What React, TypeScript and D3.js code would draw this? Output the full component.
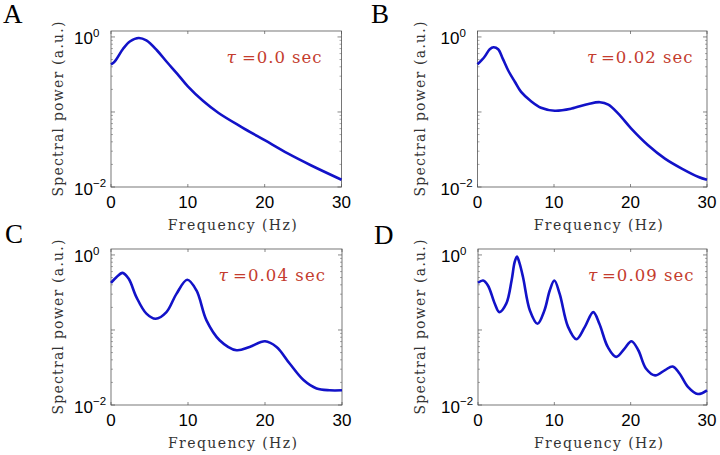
import React from "react";
import * as d3 from "d3";

// spectral power (Hz -> a.u.)
const freqA = [0, 0.5, 1.6, 2.5, 3.6, 4.6, 6, 7.3, 8.6, 10, 12, 14, 17, 20, 23, 26, 30];
const powerA = [0.432, 0.474, 0.7, 0.875, 0.97, 0.9, 0.66, 0.46, 0.325, 0.22, 0.14, 0.097, 0.063, 0.042, 0.028, 0.0195, 0.0125];

const freqB = [0, 0.9, 1.6, 2.1, 2.7, 3.3, 4, 4.9, 5.7, 7, 8.3, 10.1, 12.3, 14.5, 16, 17.1, 18.4, 20.1, 22.3, 24.5, 26.7, 28.9, 30];
const powerB = [0.432, 0.54, 0.685, 0.728, 0.685, 0.514, 0.36, 0.251, 0.185, 0.139, 0.114, 0.104, 0.111, 0.128, 0.135, 0.125, 0.095, 0.06, 0.036, 0.0239, 0.0176, 0.0136, 0.0125];

const freqC = [0, 0.7, 1.5, 2.3, 3.3, 4.6, 5.8, 7.2, 8.5, 9.9, 11.1, 12.4, 14.1, 16.3, 18, 20, 21.5, 23.2, 25, 26.7, 28.4, 30];
const powerC = [0.425, 0.505, 0.577, 0.48, 0.274, 0.165, 0.141, 0.173, 0.303, 0.466, 0.336, 0.134, 0.073, 0.0537, 0.0594, 0.0707, 0.0594, 0.0357, 0.0215, 0.0166, 0.0157, 0.0157];

const freqD = [0, 0.66, 1.3, 2.2, 2.8, 3.7, 4.4, 4.8, 5.1, 5.4, 5.9, 6.8, 7.8, 8.7, 9.4, 10, 10.7, 11.8, 12.9, 14, 15.1, 15.9, 17, 18.1, 19.2, 20.1, 21, 22, 23.2, 24.5, 25.5, 26.4, 27.5, 28.8, 30];
const powerD = [0.425, 0.456, 0.392, 0.224, 0.173, 0.224, 0.456, 0.8, 0.95, 0.8, 0.505, 0.182, 0.121, 0.182, 0.336, 0.456, 0.303, 0.11, 0.0752, 0.11, 0.173, 0.121, 0.0594, 0.0438, 0.0565, 0.0707, 0.0537, 0.0307, 0.0248, 0.0292, 0.0326, 0.0263, 0.0175, 0.014, 0.0157];

const panelLetters = ["A", "B", "C", "D"];
const tauLabels = ["=0.0 sec", "=0.02 sec", "=0.04 sec", "=0.09 sec"];
const xTicks = [0, 10, 20, 30];
const yMajor = [0.01, 0.1, 1];
const xDomain = [0, 30];
const yDomain = [0.01, 1.2];

const series = [
  { f: freqA, p: powerA },
  { f: freqB, p: powerB },
  { f: freqC, p: powerC },
  { f: freqD, p: powerD },
];

const layout = [
  { l: 111, r: 341.5, t: 31, b: 187, lx: 3, ly: 23, tau: 226.5, eq: 242, end: 321.5, yl: 58 },
  { l: 477.5, r: 707, t: 31, b: 187, lx: 371, ly: 23, tau: 587, eq: 601, end: 692.5, yl: 420 },
  { l: 111, r: 342, t: 249, b: 405, lx: 5, ly: 243, tau: 218.5, eq: 233, end: 325, yl: 58 },
  { l: 478, r: 707, t: 249, b: 405, lx: 374, ly: 244, tau: 588, eq: 602, end: 693.5, yl: 420 },
];

const serif = "'DejaVu Serif', serif";
const letterFont = "'Liberation Serif', serif";
const sans = "'Liberation Sans', Arial, sans-serif";
const red = "#c43c2e";
const blue = "#1212c8";
const axisCol = "#555";
const labelCol = "#333";

const minorTicks: number[] = [];
[0.01, 0.1].forEach((dec) => {
  for (let k = 2; k <= 9; k++) minorTicks.push(dec * k);
});

function Panel({ idx }: { idx: number }) {
  const L = layout[idx];
  const s = series[idx];
  const x = d3.scaleLinear().domain(xDomain).range([L.l, L.r]);
  const y = d3.scaleLog().domain(yDomain).range([L.b, L.t]);
  const line = d3
    .line<number>()
    .x((d, i) => x(s.f[i]))
    .y((d) => y(d))
    .curve(d3.curveCatmullRom.alpha(0.5));
  const cx = (L.l + L.r) / 2;
  const cy = (L.t + L.b) / 2;

  return (
    <g>
      <text x={L.lx} y={L.ly} fontFamily={letterFont} fontSize={27}>
        {panelLetters[idx]}
      </text>
      <rect x={L.l} y={L.t} width={L.r - L.l} height={L.b - L.t} fill="#fff" stroke={axisCol} strokeWidth={0.8} />
      {xTicks.map((t) => (
        <g key={"x" + t}>
          <line x1={x(t)} x2={x(t)} y1={L.b} y2={L.b - 3} stroke={axisCol} strokeWidth={0.7} />
          <line x1={x(t)} x2={x(t)} y1={L.t} y2={L.t + 3} stroke={axisCol} strokeWidth={0.7} />
          <text x={x(t)} y={L.b + 21} textAnchor="middle" fontFamily={sans} fontSize={17}>
            {t}
          </text>
        </g>
      ))}
      {yMajor.map((t) => (
        <g key={"y" + t}>
          <line x1={L.l} x2={L.l + 4} y1={y(t)} y2={y(t)} stroke={axisCol} strokeWidth={0.7} />
          <line x1={L.r} x2={L.r - 4} y1={y(t)} y2={y(t)} stroke={axisCol} strokeWidth={0.7} />
        </g>
      ))}
      {minorTicks.map((t) => (
        <g key={"m" + t}>
          <line x1={L.l} x2={L.l + 2} y1={y(t)} y2={y(t)} stroke={axisCol} strokeWidth={0.5} />
          <line x1={L.r} x2={L.r - 2} y1={y(t)} y2={y(t)} stroke={axisCol} strokeWidth={0.5} />
        </g>
      ))}
      {[1, 0.01].map((t) => (
        <text key={"yl" + t} x={L.l - 37} y={y(t) + 7.5} fontFamily={sans} fontSize={17}>
          <tspan>10</tspan>
          <tspan dy={-7.5} fontSize={11.5}>
            {t === 1 ? "0" : "\u22122"}
          </tspan>
        </text>
      ))}
      <path d={line(s.p) || ""} fill="none" stroke={blue} strokeWidth={2.6} />
      <text x={L.tau} y={L.t + 32} fill={red} fontFamily={serif} fontSize={17} fontStyle="italic">
        τ
      </text>
      <text
        x={L.eq}
        y={L.t + 32}
        fill={red}
        fontFamily={serif}
        fontSize={16.5}
        textLength={L.end - L.eq}
        lengthAdjust="spacing"
      >
        {tauLabels[idx]}
      </text>
      <text
        x={cx + 6}
        y={L.b + 43}
        textAnchor="middle"
        fill={labelCol}
        fontFamily={serif}
        fontSize={14}
        textLength={129}
        lengthAdjust="spacing"
      >
        Frequency (Hz)
      </text>
      <text
        transform={`translate(${L.yl + 5},${cy}) rotate(-90)`}
        textAnchor="middle"
        fill={labelCol}
        fontFamily={serif}
        fontSize={14}
        textLength={175}
        lengthAdjust="spacing"
      >
        Spectral power (a.u.)
      </text>
    </g>
  );
}

export default function App() {
  return (
    <svg
      width={720}
      height={455}
      style={{ position: "absolute", left: 0, top: 0, background: "#fff" }}
    >
      {series.map((_, i) => (
        <Panel key={i} idx={i} />
      ))}
    </svg>
  );
}
